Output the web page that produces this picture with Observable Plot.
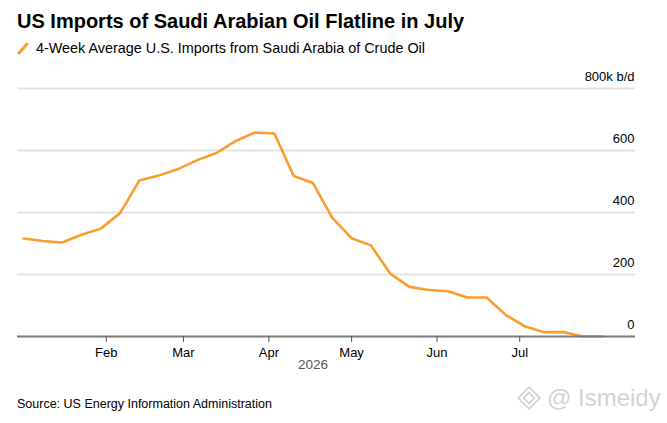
<!DOCTYPE html>
<html>
<head>
<meta charset="utf-8">
<script src="https://cdn.jsdelivr.net/npm/d3@7"></script>
<script src="https://cdn.jsdelivr.net/npm/@observablehq/plot@0.6"></script>
<style>
  html, body { margin: 0; padding: 0; background: #fff; }
  body { width: 667px; height: 423px; position: relative; overflow: hidden; font-family: "Liberation Sans", Arial, sans-serif; color: #000; }
  #title { position: absolute; left: 17px; top: 10px; font-size: 20px; font-weight: bold; letter-spacing: 0; white-space: nowrap; }
  #subtitle { position: absolute; left: 17px; top: 40px; font-size: 14.4px; white-space: nowrap; display: flex; align-items: center; }
  #subtitle svg { margin-right: 7px; }
  #chart { position: absolute; left: 0; top: 60px; }
  #source { position: absolute; left: 17px; top: 397px; font-size: 12.5px; white-space: nowrap; }
  #wm { position: absolute; left: 516px; top: 384px; font-size: 24px; color: #d2d2d2; white-space: nowrap; display: flex; align-items: center; }
  #wm svg { margin-right: 5px; }
</style>
</head>
<body>
<div id="title">US Imports of Saudi Arabian Oil Flatline in July</div>
<div id="subtitle"><svg width="12" height="14" viewBox="0 0 12 14"><line x1="2" y1="12" x2="10" y2="3" stroke="#fa9d2b" stroke-width="3" stroke-linecap="round"/></svg><span>4-Week Average U.S. Imports from Saudi Arabia of Crude Oil</span></div>
<div id="chart"></div>
<div id="source">Source: US Energy Information Administration</div>
<div id="wm"><svg width="26" height="26" viewBox="0 0 24 24"><g fill="none" stroke="#d2d2d2" stroke-width="1.6"><path d="M12 2 L22 12 L12 22 L2 12 Z"/><path d="M12 7 L17 12 L12 17 L7 12 Z"/></g></svg><span>@ Ismeidy</span></div>
<script>
// Week-ending dates (Fridays), 2026
const weekStart = "2026-01-02";
const values = [316, 308, 303, 328, 348, 398, 503, 519, 540, 569, 592, 631, 658, 655,
                518, 495, 383, 317, 294, 203, 160, 150, 146, 126, 126, 69, 32, 14, 14, 0, 0];
const yTicks = [0, 200, 400, 600, 800];
const monthTicks = ["2026-02-01", "2026-03-01", "2026-04-01", "2026-05-01", "2026-06-01", "2026-07-01"];
const yearLabel = "2026";

const start = new Date(weekStart + "T00:00:00Z");
const dates = values.map((_, i) => d3.utcDay.offset(start, 7 * i));
const data = values.map((v, i) => ({date: dates[i], value: v}));
const midDate = new Date((dates[0].getTime() + dates[dates.length - 1].getTime()) / 2);

const chart = Plot.plot({
  width: 667,
  height: 320,
  marginTop: 28,
  marginBottom: 44,
  marginLeft: 17,
  marginRight: 32,
  style: {fontFamily: "Liberation Sans, Arial, sans-serif", fontSize: "13px", color: "#000", background: "transparent"},
  x: {type: "utc", domain: [new Date(Date.UTC(2025, 11, 30, 19)), new Date(Date.UTC(2026, 7, 12))]},
  y: {domain: [0, 800]},
  marks: [
    Plot.ruleY(yTicks.filter(d => d > 0), {stroke: "#e3e3e3", strokeWidth: 2}),
    Plot.text(yTicks, {y: d => d, text: d => d === 800 ? "800k b/d" : String(d), frameAnchor: "right", textAnchor: "end", dx: -1, dy: -12, fontSize: 13, fill: "#000"}),
    Plot.line(data, {x: "date", y: "value", stroke: "#fa9d2b", strokeWidth: 2.6, strokeLinejoin: "round", strokeLinecap: "round"}),
    Plot.ruleY([0], {stroke: "#7a7a7a", strokeWidth: 2}),
    Plot.axisX({ticks: monthTicks.map(d => new Date(d + "T00:00:00Z")), tickFormat: d3.utcFormat("%b"), tickSize: 6, tickPadding: 5, stroke: "#555", fill: "#000", fontSize: 13, label: null}),
    Plot.axisY({ticks: [], label: null}),
    Plot.text([yearLabel], {x: midDate, text: d => d, frameAnchor: "bottom", dy: 32, fill: "#555", fontSize: 13.5, letterSpacing: 1})
  ]
});
document.getElementById("chart").appendChild(chart);
</script>
</body>
</html>
